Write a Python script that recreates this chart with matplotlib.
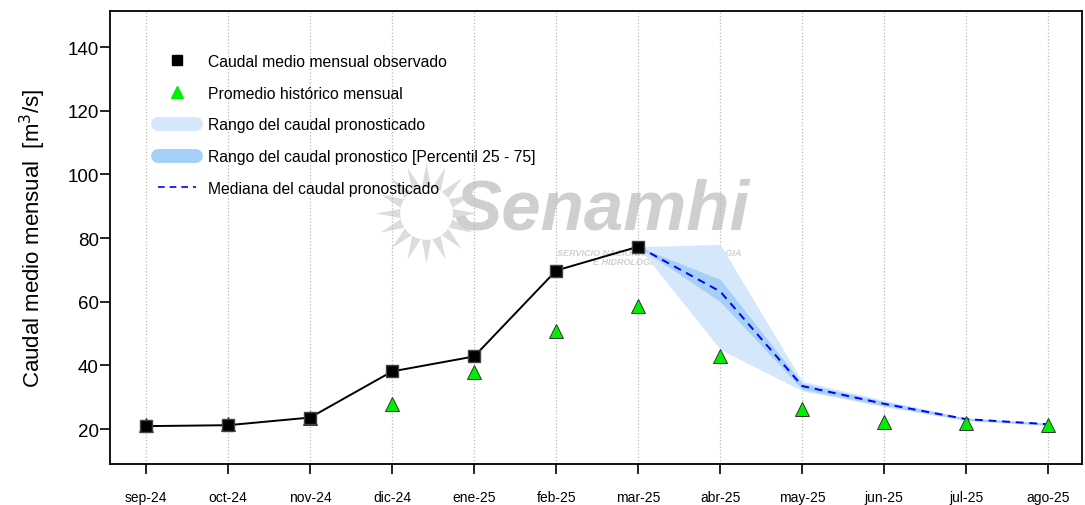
import numpy as np
import matplotlib
matplotlib.use('Agg')
import matplotlib.pyplot as plt
from matplotlib.lines import Line2D

plt.rcParams['font.family'] = ['Liberation Sans', 'DejaVu Sans']

# datos
meses = ['sep-24', 'oct-24', 'nov-24', 'dic-24', 'ene-25', 'feb-25',
         'mar-25', 'abr-25', 'may-25', 'jun-25', 'jul-25', 'ago-25']

observado = [20.9, 21.2, 23.6, 38.1, 42.8, 69.8, 77.3]
historico = [21.2, 21.5, 23.5, 27.8, 37.8, 50.8, 58.8, 42.8, 26.2, 22.3, 21.8, 21.3]

# pronostico (desde mar-25)
pron_meses = ['mar-25', 'abr-25', 'may-25', 'jun-25', 'jul-25', 'ago-25']
mediana = [77.3, 63.2, 33.5, 27.9, 23.1, 21.5]
rango_min = [77.3, 45.0, 32.0, 27.0, 22.6, 21.1]
rango_max = [77.3, 78.0, 35.0, 29.0, 23.5, 21.9]
p25 = [77.3, 60.0, 32.5, 27.3, 22.8, 21.2]
p75 = [77.3, 67.0, 34.3, 28.6, 23.4, 21.8]

x = np.arange(len(meses))
x_obs = x[:len(observado)]
x_pron = x[meses.index(pron_meses[0]):]

fig = plt.figure(figsize=(10.85, 5.06), dpi=100)
ax = fig.add_axes([0.1014, 0.081, 0.8958, 0.895])

# marca de agua (logo)
ax.plot([0.325], [0.555], transform=ax.transAxes, marker=(16, 1, 0), markersize=72,
        color='#dcdcdc', markeredgewidth=0, zorder=0.2)
ax.plot([0.325], [0.555], transform=ax.transAxes, marker='o', markersize=38,
        color='white', markeredgewidth=0, zorder=0.3)
ax.text(0.506, 0.52, 'Senamhi', transform=ax.transAxes, fontsize=51, fontweight='bold',
        fontstyle='italic', color='#cfcfcf', ha='center', va='baseline', zorder=0.4)
ax.text(0.555, 0.458, 'SERVICIO NACIONAL DE METEOROLOGIA\nE HIDROLOGIA DEL PERU',
        transform=ax.transAxes, fontsize=6.5, fontweight='bold', fontstyle='italic',
        color='#d0d0d0', ha='center', va='center', zorder=0.4, linespacing=1.0)

for xi in x:
    ax.axvline(xi, color='#b8b8b8', linestyle=':', linewidth=0.9, zorder=0.5)

ax.fill_between(x_pron, rango_min, rango_max, color='#d5e8fb', linewidth=0, zorder=1)
ax.fill_between(x_pron, p25, p75, color='#a6cff7', linewidth=0, zorder=1.5)
ax.plot(x_pron, mediana, color='#0000ff', linestyle=(0, (4, 3)), linewidth=1.4, zorder=2)

ax.plot(x, historico, linestyle='none', marker='^', markersize=10,
        markerfacecolor='#00ee00', markeredgecolor='#333333', markeredgewidth=0.7, zorder=3)
ax.plot(x_obs, observado, color='black', linewidth=1.4, marker='s', markersize=9,
        markerfacecolor='black', markeredgecolor='#444444', zorder=4)

ax.set_xlim(-0.44, 11.41)
ax.set_ylim(9, 151.3)
ax.set_xticks(x)
ax.set_xticklabels(meses, fontsize=10)
ax.set_yticks([20, 40, 60, 80, 100, 120, 140])
ax.tick_params(axis='y', labelsize=13.5, length=7, width=1.2, direction='out', pad=1)
ax.tick_params(axis='x', length=7, width=1.2, direction='out', pad=12)
for s in ax.spines.values():
    s.set_linewidth(1.3)

ax.set_ylabel('Caudal medio mensual  [m$^3$/s]', fontsize=16, labelpad=14)

handles = [
    Line2D([], [], linestyle='none', marker='s', markersize=7, color='black'),
    Line2D([], [], linestyle='none', marker='^', markersize=9, color='#00ee00'),
    Line2D([], [], color='#d5e8fb', linewidth=10, solid_capstyle='round'),
    Line2D([], [], color='#a6cff7', linewidth=10, solid_capstyle='round'),
    Line2D([], [], color='#0000ff', linestyle=(0, (4, 3)), linewidth=1.2),
]
labels = ['Caudal medio mensual observado', 'Promedio histórico mensual',
          'Rango del caudal pronosticado',
          'Rango del caudal pronostico [Percentil 25 - 75]',
          'Mediana del caudal pronosticado']
ax.legend(handles, labels, loc='upper left', bbox_to_anchor=(0.035, 0.937), frameon=False,
          fontsize=11.3, handlelength=2.4, labelspacing=1.07, handletextpad=0.8)

fig.savefig('out.png', dpi=100)
